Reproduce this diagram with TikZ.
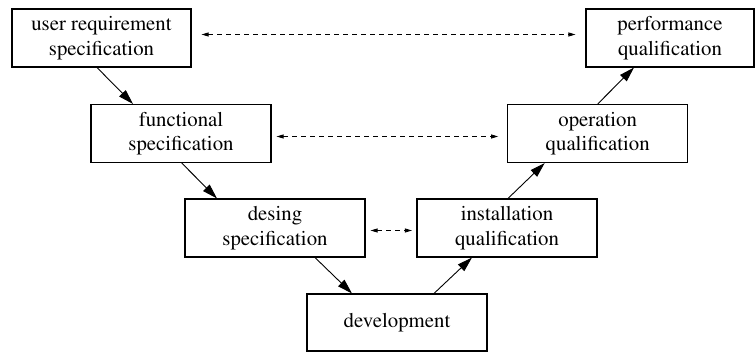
\documentclass[tikz,border=0pt]{standalone}
\usepackage[T1]{fontenc}
\renewcommand{\rmdefault}{ptm}
\usetikzlibrary{arrows.meta}
\begin{document}
\begin{tikzpicture}[x=1pt,y=-1pt,
  box/.style={draw, line width=1.1pt, inner sep=0pt, minimum height=58pt, align=center,
    font=\rmfamily\fontsize{20.8}{24.5}\selectfont},
  flow/.style={line width=0.9pt, -{Triangle[length=15pt,width=9pt]}},
  link/.style={line width=0.9pt, dash pattern=on 5pt off 4pt,
    {Triangle[length=7pt,width=4pt]}-{Triangle[length=7pt,width=4pt]}}]
\useasboundingbox (0,0) rectangle (755,352);
\node[box, minimum width=179pt] (urs) at (101.5,38) {user requirement\\specification};
\node[box, minimum width=168pt] (perf) at (670,38) {performance\\qualification};
\node[box, minimum width=180pt] (func) at (181,133.5) {functional\\specification};
\node[box, minimum width=180pt] (oper) at (597.7,133.5) {operation\\qualification};
\node[box, minimum width=180pt] (des) at (275,228) {desing\\specification};
\node[box, minimum width=180pt] (inst) at (507,228) {installation\\qualification};
\node[box, minimum width=180pt, minimum height=57pt] (dev) at (397,322.5) {development};
% V arrows
\draw[flow] ([xshift=-4.5pt]urs.south) -- ([xshift=-48pt]func.north);
\draw[flow] ([xshift=0.7pt]func.south) -- ([xshift=-58pt]des.north);
\draw[flow] ([xshift=40pt]des.south) -- ([xshift=-45pt]dev.north);
\draw[flow] ([xshift=37pt]dev.north) -- ([xshift=-35pt]inst.south);
\draw[flow] ([xshift=1pt]inst.north) -- ([xshift=-53pt]oper.south);
\draw[flow] (oper.north) -- ([xshift=-36pt]perf.south);
% dashed correspondence arrows
\draw[link] ([xshift=10pt,yshift=3.5pt]urs.east) -- ([xshift=-10pt,yshift=3.5pt]perf.west);
\draw[link] ([xshift=5pt,yshift=-3pt]func.east) -- ([xshift=-9pt,yshift=-3pt]oper.west);
\draw[link] ([xshift=5pt,yshift=-2.5pt]des.east) -- ([xshift=-4.5pt,yshift=-2.5pt]inst.west);
\end{tikzpicture}
\end{document}
